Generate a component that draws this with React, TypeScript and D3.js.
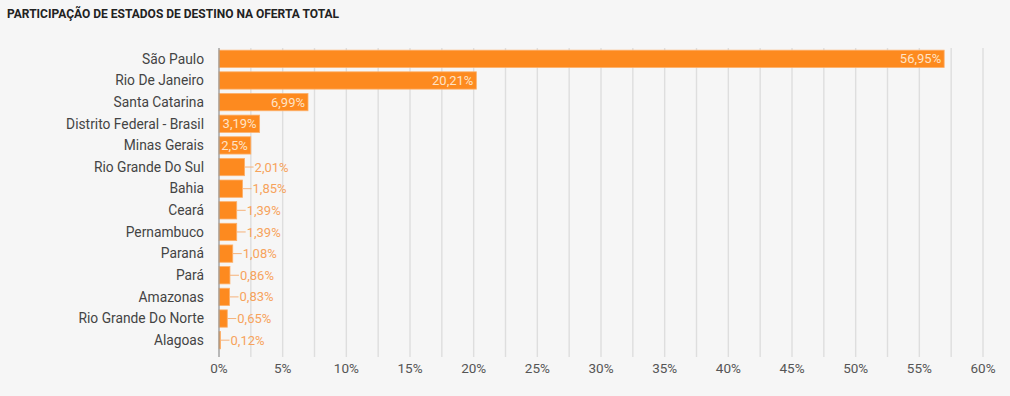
import React from "react";
import * as d3 from "d3";

// dados
const estados = [
  "São Paulo",
  "Rio De Janeiro",
  "Santa Catarina",
  "Distrito Federal - Brasil",
  "Minas Gerais",
  "Rio Grande Do Sul",
  "Bahia",
  "Ceará",
  "Pernambuco",
  "Paraná",
  "Pará",
  "Amazonas",
  "Rio Grande Do Norte",
  "Alagoas",
];
const participacao = [56.95, 20.21, 6.99, 3.19, 2.5, 2.01, 1.85, 1.39, 1.39, 1.08, 0.86, 0.83, 0.65, 0.12];
const xTicks = [0, 5, 10, 15, 20, 25, 30, 35, 40, 45, 50, 55, 60];
const gridValues = d3.range(0, 60.01, 2.5);

const W = 1010;
const H = 396;
const margin = { top: 48, bottom: 45, left: 219, right: 27 };
const FONT = "Roboto, 'Noto Sans', sans-serif";

const fmt = (v: number) => String(v).replace(".", ",") + "%";

export default function App() {
  const x = d3.scaleLinear().domain([0, 60]).range([margin.left, W - margin.right]);
  const y = d3
    .scaleBand<string>()
    .domain(estados)
    .range([margin.top, H - margin.bottom])
    .paddingInner(0.2)
    .paddingOuter(0.1);

  const bottom = H - margin.bottom;

  return (
    <div style={{ position: "absolute", left: 0, top: 0 }}>
      <svg width={W} height={H} style={{ display: "block", fontFamily: FONT }}>
        <rect width={W} height={H} fill="#f6f6f6" />
        <text x={7} y={18} fontSize={12} fontWeight={700} fill="#222">
          PARTICIPAÇÃO DE ESTADOS DE DESTINO NA OFERTA TOTAL
        </text>

        {/* grade */}
        {gridValues.map((v) => (
          <line
            key={v}
            x1={x(v)}
            x2={x(v)}
            y1={margin.top}
            y2={bottom + 6}
            stroke="#dedede"
            strokeWidth={1.4}
          />
        ))}

        {/* eixo x */}
        {xTicks.map((t) => (
          <text key={t} x={x(t)} y={bottom + 22} fontSize={13.5} fill="#555" textAnchor="middle">
            {t + "%"}
          </text>
        ))}

        {/* barras */}
        {estados.map((e, i) => {
          const v = participacao[i];
          const y0 = y(e)!;
          const bw = x(v) - x(0);
          const cy = y0 + y.bandwidth() / 2;
          const inside = bw > 30;
          return (
            <g key={e}>
              <text x={margin.left - 15} y={cy + 4.8} fontSize={13.8} fill="#444" textAnchor="end">
                {e}
              </text>
              <rect
                x={x(0)}
                y={y0}
                width={Math.max(bw, 1)}
                height={y.bandwidth()}
                fill="#fd8a1f"
                stroke="#fdb06a"
                strokeWidth={0.8}
              />
              {inside ? (
                <text x={x(v) - 3} y={cy + 4.6} fontSize={13} fill="#ffe3c6" textAnchor="end">
                  {fmt(v)}
                </text>
              ) : (
                <g>
                  <line x1={x(v)} x2={x(v) + 9} y1={cy} y2={cy} stroke="#f6b27a" strokeWidth={1} />
                  <text x={x(v) + 10} y={cy + 4.6} fontSize={13} fill="#f6a35c">
                    {fmt(v)}
                  </text>
                </g>
              )}
            </g>
          );
        })}

        {/* linha do eixo y */}
        <line x1={x(0)} x2={x(0)} y1={margin.top} y2={bottom + 6} stroke="#999" strokeWidth={1.2} />
      </svg>
    </div>
  );
}
